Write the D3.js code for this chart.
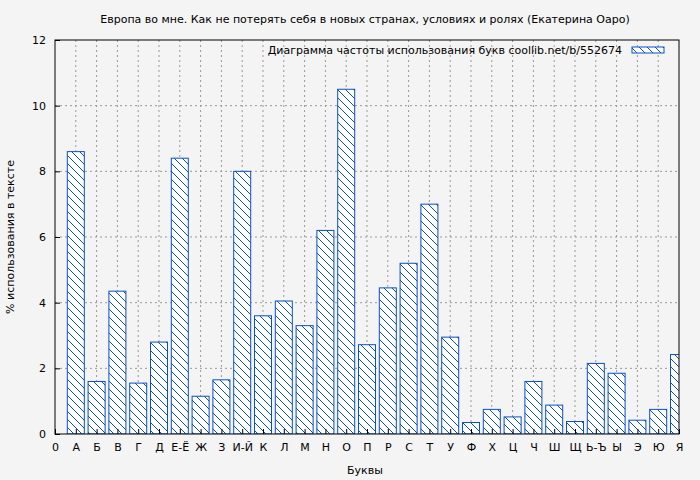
<!DOCTYPE html>
<html><head><meta charset="utf-8">
<script src="https://cdn.jsdelivr.net/npm/d3@7"></script>
<style>body{margin:0;background:#f4f4f4}text{font-family:"DejaVu Sans",sans-serif;font-size:11px;fill:#000}</style>
</head><body><svg id="c" width="700" height="480"></svg>
<script>
const letters = ["А","Б","В","Г","Д","Е-Ё","Ж","З","И-Й","К","Л","М","Н","О","П","Р","С","Т","У","Ф","Х","Ц","Ч","Ш","Щ","Ь-Ъ","Ы","Э","Ю","Я"];
const values = [8.6,1.6,4.35,1.55,2.8,8.4,1.15,1.65,8.0,3.6,4.05,3.3,6.2,10.5,2.72,4.45,5.2,7.0,2.95,0.35,0.75,0.52,1.6,0.88,0.38,2.15,1.85,0.42,0.75,2.42];
const yTicks = [0,2,4,6,8,10,12];

const svg = d3.select("#c");
const L = 55, R = 679, T = 40, B = 434;
const x = d3.scaleLinear().domain([0, 30]).range([L, R]);
const y = d3.scaleLinear().domain([0, 12]).range([B, T]);
const blue = "#0a4fc4";

const defs = svg.append("defs");
const pat = defs.append("pattern").attr("id", "hatch").attr("patternUnits", "userSpaceOnUse")
  .attr("width", 8).attr("height", 8);
pat.append("rect").attr("width", 8).attr("height", 8).attr("fill", "#fff");
pat.append("path").attr("d", "M-2,-2 L10,10 M-2,6 L2,10 M6,-2 L10,2").attr("stroke", blue).attr("stroke-width", 1);
defs.append("clipPath").attr("id", "clip").append("rect")
  .attr("x", L).attr("y", T).attr("width", R - L).attr("height", B - T);

// grid
const g = svg.append("g");
g.selectAll("line.gy").data(yTicks.slice(1, -1)).join("line")
  .attr("x1", L).attr("x2", R).attr("y1", d => y(d)).attr("y2", d => y(d))
  .attr("stroke", "#999").attr("stroke-dasharray", "2,3");
g.selectAll("line.gx").data(d3.range(1, 30)).join("line")
  .attr("y1", T).attr("y2", B).attr("x1", d => x(d)).attr("x2", d => x(d))
  .attr("stroke", "#999").attr("stroke-dasharray", "2,3");

// bars
const bw = 17;
svg.append("g").attr("clip-path", "url(#clip)").selectAll("rect").data(values).join("rect")
  .attr("x", (d, i) => x(i + 1) - bw / 2).attr("width", bw)
  .attr("y", d => y(d)).attr("height", d => B - y(d))
  .attr("fill", "url(#hatch)").attr("stroke", blue).attr("stroke-width", 1);

// frame
svg.append("rect").attr("x", L).attr("y", T).attr("width", R - L).attr("height", B - T)
  .attr("fill", "none").attr("stroke", "#000");

// axes
const ya = svg.append("g").attr("transform", `translate(${L},0)`)
  .call(d3.axisLeft(y).tickValues(yTicks).tickSize(-5).tickPadding(9));
ya.select(".domain").remove();
ya.selectAll("text").style("font-size", "11px").style("font-family", "DejaVu Sans");
const xa = svg.append("g").attr("transform", `translate(0,${B})`)
  .call(d3.axisBottom(x).tickValues(d3.range(0, 31)).tickFormat(i => i === 0 ? "0" : letters[i - 1]).tickSize(-5).tickPadding(9));
xa.select(".domain").remove();
xa.selectAll("text").style("font-size", "11px").style("font-family", "DejaVu Sans");

svg.append("text").attr("x", 365).attr("y", 23).attr("text-anchor", "middle")
  .text("Европа во мне. Как не потерять себя в новых странах, условиях и ролях (Екатерина Оаро)");
svg.append("text").attr("x", 365).attr("y", 474).attr("text-anchor", "middle").text("Буквы");
svg.append("text").attr("transform", "translate(14,237) rotate(-90)").attr("text-anchor", "middle")
  .text("% использования в тексте");
svg.append("text").attr("x", 622).attr("y", 54).attr("text-anchor", "end")
  .text("Диаграмма частоты использования букв  coollib.net/b/552674");
svg.append("rect").attr("x", 632).attr("y", 47).attr("width", 32).attr("height", 6)
  .attr("fill", "url(#hatch)").attr("stroke", blue);
</script></body></html>
